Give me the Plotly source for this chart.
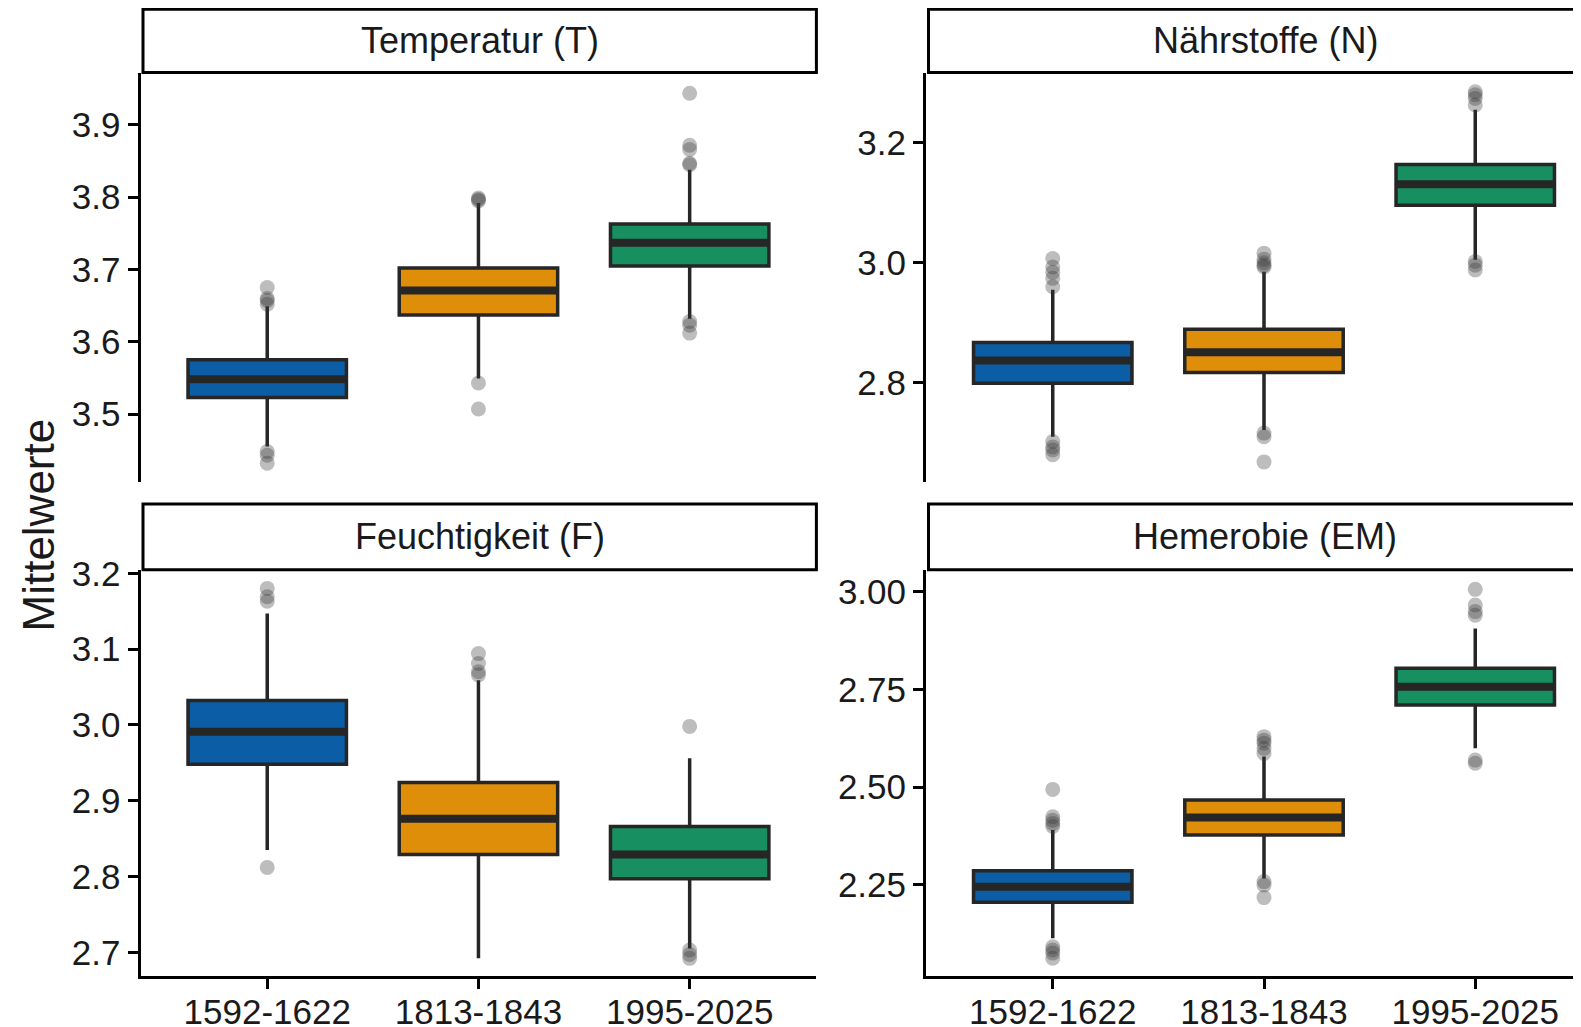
import plotly.graph_objects as go

W, H = 1581, 1027
OFF = 8  # page offset of the figure inside the browser window

periods = ["1592-1622", "1813-1843", "1995-2025"]
period_pos = [1, 2, 3]
fill_colors = ["#0B5EA5", "#DF8E0A", "#178F60"]

# ---- Temperatur (T)
T_q1 = [3.523, 3.637, 3.705]
T_median = [3.548, 3.671, 3.737]
T_q3 = [3.575, 3.702, 3.763]
T_lower = [3.455, 3.549, 3.632]
T_upper = [3.649, 3.792, 3.838]
T_outliers = [
    [3.675, 3.660, 3.657, 3.652, 3.448, 3.443, 3.432],
    [3.799, 3.797, 3.795, 3.543, 3.507],
    [3.944, 3.872, 3.866, 3.847, 3.845, 3.628, 3.623, 3.612],
]
T_ticks = [3.5, 3.6, 3.7, 3.8, 3.9]

# ---- Nährstoffe (N)
N_q1 = [2.799, 2.817, 3.096]
N_median = [2.837, 2.851, 3.131]
N_q3 = [2.867, 2.889, 3.164]
N_lower = [2.710, 2.721, 3.005]
N_upper = [2.955, 2.985, 3.255]
N_outliers = [
    [3.007, 2.993, 2.984, 2.974, 2.960, 2.702, 2.693, 2.688, 2.680],
    [3.016, 3.006, 3.000, 2.996, 2.993, 2.716, 2.710, 2.668],
    [3.285, 3.280, 3.274, 3.263, 3.002, 2.996, 2.988],
]
N_ticks = [2.8, 3.0, 3.2]

# ---- Feuchtigkeit (F)
F_q1 = [2.948, 2.829, 2.797]
F_median = [2.991, 2.876, 2.829]
F_q3 = [3.032, 2.924, 2.866]
F_lower = [2.835, 2.692, 2.705]
F_upper = [3.147, 3.059, 2.956]
F_outliers = [
    [3.180, 3.169, 3.163, 2.812],
    [3.094, 3.081, 3.070, 3.066],
    [2.998, 2.703, 2.697, 2.692],
]
F_ticks = [2.7, 2.8, 2.9, 3.0, 3.1, 3.2]

# ---- Hemerobie (EM)
EM_q1 = [2.205, 2.377, 2.710]
EM_median = [2.245, 2.422, 2.757]
EM_q3 = [2.286, 2.467, 2.804]
EM_lower = [2.113, 2.266, 2.599]
EM_upper = [2.390, 2.578, 2.906]
EM_outliers = [
    [2.494, 2.424, 2.415, 2.407, 2.399, 2.091, 2.083, 2.075, 2.062],
    [2.629, 2.620, 2.612, 2.599, 2.586, 2.258, 2.249, 2.217],
    [3.006, 2.966, 2.949, 2.940, 2.569, 2.561],
]
EM_ticks = [2.25, 2.50, 2.75, 3.00]

panel_titles = ["Temperatur (T)", "Nährstoffe (N)", "Feuchtigkeit (F)", "Hemerobie (EM)"]
y_title = "Mittelwerte"

panels = [
    dict(q1=T_q1, med=T_median, q3=T_q3, lo=T_lower, hi=T_upper, out=T_outliers,
         ticks=T_ticks, fmt="{:.1f}", yr=[3.4059, 3.9725]),
    dict(q1=N_q1, med=N_median, q3=N_q3, lo=N_lower, hi=N_upper, out=N_outliers,
         ticks=N_ticks, fmt="{:.1f}", yr=[2.6345, 3.317]),
    dict(q1=F_q1, med=F_median, q3=F_q3, lo=F_lower, hi=F_upper, out=F_outliers,
         ticks=F_ticks, fmt="{:.1f}", yr=[2.6687, 3.2047]),
    dict(q1=EM_q1, med=EM_median, q3=EM_q3, lo=EM_lower, hi=EM_upper, out=EM_outliers,
         ticks=EM_ticks, fmt="{:.2f}", yr=[2.0164, 3.0563]),
]

# layout geometry (window pixels)
left_x0, left_x1 = 140.5, 816.4
right_x0, right_x1 = 926.0, W + OFF
right_full_x1 = 1602.0
top_y0, top_y1 = 72.6, 482.0
bot_y0, bot_y1 = 569.7, 976.0
strip_top = [(9.3, 72.6), (504.0, 569.7)]

BOX_W = 0.75
LINE_C = "#262626"
FONT = "Liberation Sans, Arial, sans-serif"
TXT_C = "#1a1a1a"

fig = go.Figure()

for i, p in enumerate(panels):
    xa = "x" if i == 0 else f"x{i+1}"
    ya = "y" if i == 0 else f"y{i+1}"
    for j, pos in enumerate(period_pos):
        fig.add_trace(go.Box(
            x=[pos], q1=[p["q1"][j]], median=[p["med"][j]], q3=[p["q3"][j]],
            lowerfence=[p["lo"][j]], upperfence=[p["hi"][j]],
            width=BOX_W, whiskerwidth=0, boxpoints=False,
            fillcolor=fill_colors[j], line=dict(color=LINE_C, width=3.5),
            xaxis=xa, yaxis=ya, showlegend=False, hoverinfo="skip"))
        fig.add_trace(go.Scatter(
            x=[pos - BOX_W / 2, pos + BOX_W / 2], y=[p["med"][j], p["med"][j]],
            mode="lines", line=dict(color=LINE_C, width=8),
            xaxis=xa, yaxis=ya, showlegend=False, hoverinfo="skip"))
    for j, pos in enumerate(period_pos):
        outs = p["out"][j]
        fig.add_trace(go.Scatter(
            x=[pos] * len(outs), y=outs, mode="markers",
            marker=dict(size=15, color="rgba(55,55,55,0.33)", line=dict(width=0)),
            xaxis=xa, yaxis=ya, showlegend=False, hoverinfo="skip"))

def px(v):
    return (v - OFF) / W

def py(v):
    return 1 - (v - OFF) / H

xdom_left = [px(left_x0), px(left_x1)]
xdom_right = [px(right_x0), 1.0]
xr_left = [0.4, 3.6]
xr_right = [0.4, 0.4 + 3.2 * (right_x1 - right_x0) / (right_full_x1 - right_x0)]
ydom_top = [py(top_y1), py(top_y0)]
ydom_bot = [py(bot_y1), py(bot_y0)]

tickfont = dict(family=FONT, size=35, color=TXT_C)

def xaxis(dom, rng, anchor, bottom):
    d = dict(domain=dom, range=rng, anchor=anchor, showgrid=False, zeroline=False,
             automargin=False,
             tickmode="array", tickvals=period_pos, ticktext=periods,
             tickfont=tickfont, fixedrange=True)
    if bottom:
        d.update(showline=True, linecolor="black", linewidth=3, ticks="outside",
                 ticklen=10, tickwidth=3, tickcolor="black", showticklabels=True,
                 ticklabelstandoff=-7)
    else:
        d.update(showline=False, ticks="", showticklabels=False)
    return d

def yaxis(dom, p, anchor):
    return dict(domain=dom, range=p["yr"], anchor=anchor, showgrid=False, zeroline=False,
                automargin=False,
                showline=True, linecolor="black", linewidth=3, ticks="outside",
                ticklen=10, tickwidth=3, tickcolor="black",
                tickmode="array", tickvals=p["ticks"],
                ticktext=[p["fmt"].format(t) for t in p["ticks"]],
                tickfont=tickfont, fixedrange=True)

fig.update_layout(
    template="none",
    width=W, height=H, margin=dict(l=0, r=0, t=0, b=0, autoexpand=False),
    paper_bgcolor="white", plot_bgcolor="white",
    xaxis=xaxis(xdom_left, xr_left, "y", False),
    yaxis=yaxis(ydom_top, panels[0], "x"),
    xaxis2=xaxis(xdom_right, xr_right, "y2", False),
    yaxis2=yaxis(ydom_top, panels[1], "x2"),
    xaxis3=xaxis(xdom_left, xr_left, "y3", True),
    yaxis3=yaxis(ydom_bot, panels[2], "x3"),
    xaxis4=xaxis(xdom_right, xr_right, "y4", True),
    yaxis4=yaxis(ydom_bot, panels[3], "x4"),
)

shapes = []
annotations = []
strip_x = [(143.0, left_x1), (right_x0 + 2.5, right_full_x1)]
for i, title in enumerate(panel_titles):
    row, col = divmod(i, 2)
    sx0, sx1 = strip_x[col]
    sy0, sy1 = strip_top[row]
    shapes.append(dict(type="rect", xref="paper", yref="paper",
                       x0=px(sx0), x1=px(sx1), y0=py(sy1), y1=py(sy0),
                       line=dict(color="black", width=3), fillcolor="white", layer="above"))
    annotations.append(dict(text=title, xref="paper", yref="paper",
                            x=px((sx0 + sx1) / 2), y=py((sy0 + sy1) / 2),
                            xanchor="center", yanchor="middle", showarrow=False,
                            font=dict(family=FONT, size=36, color=TXT_C)))

annotations.append(dict(text=y_title, xref="paper", yref="paper",
                        x=px(37.5), y=py(525), textangle=-90,
                        xanchor="center", yanchor="middle", showarrow=False,
                        font=dict(family=FONT, size=44, color=TXT_C)))

fig.update_layout(shapes=shapes, annotations=annotations)

fig.write_html("out.html", config=dict(displayModeBar=False))
